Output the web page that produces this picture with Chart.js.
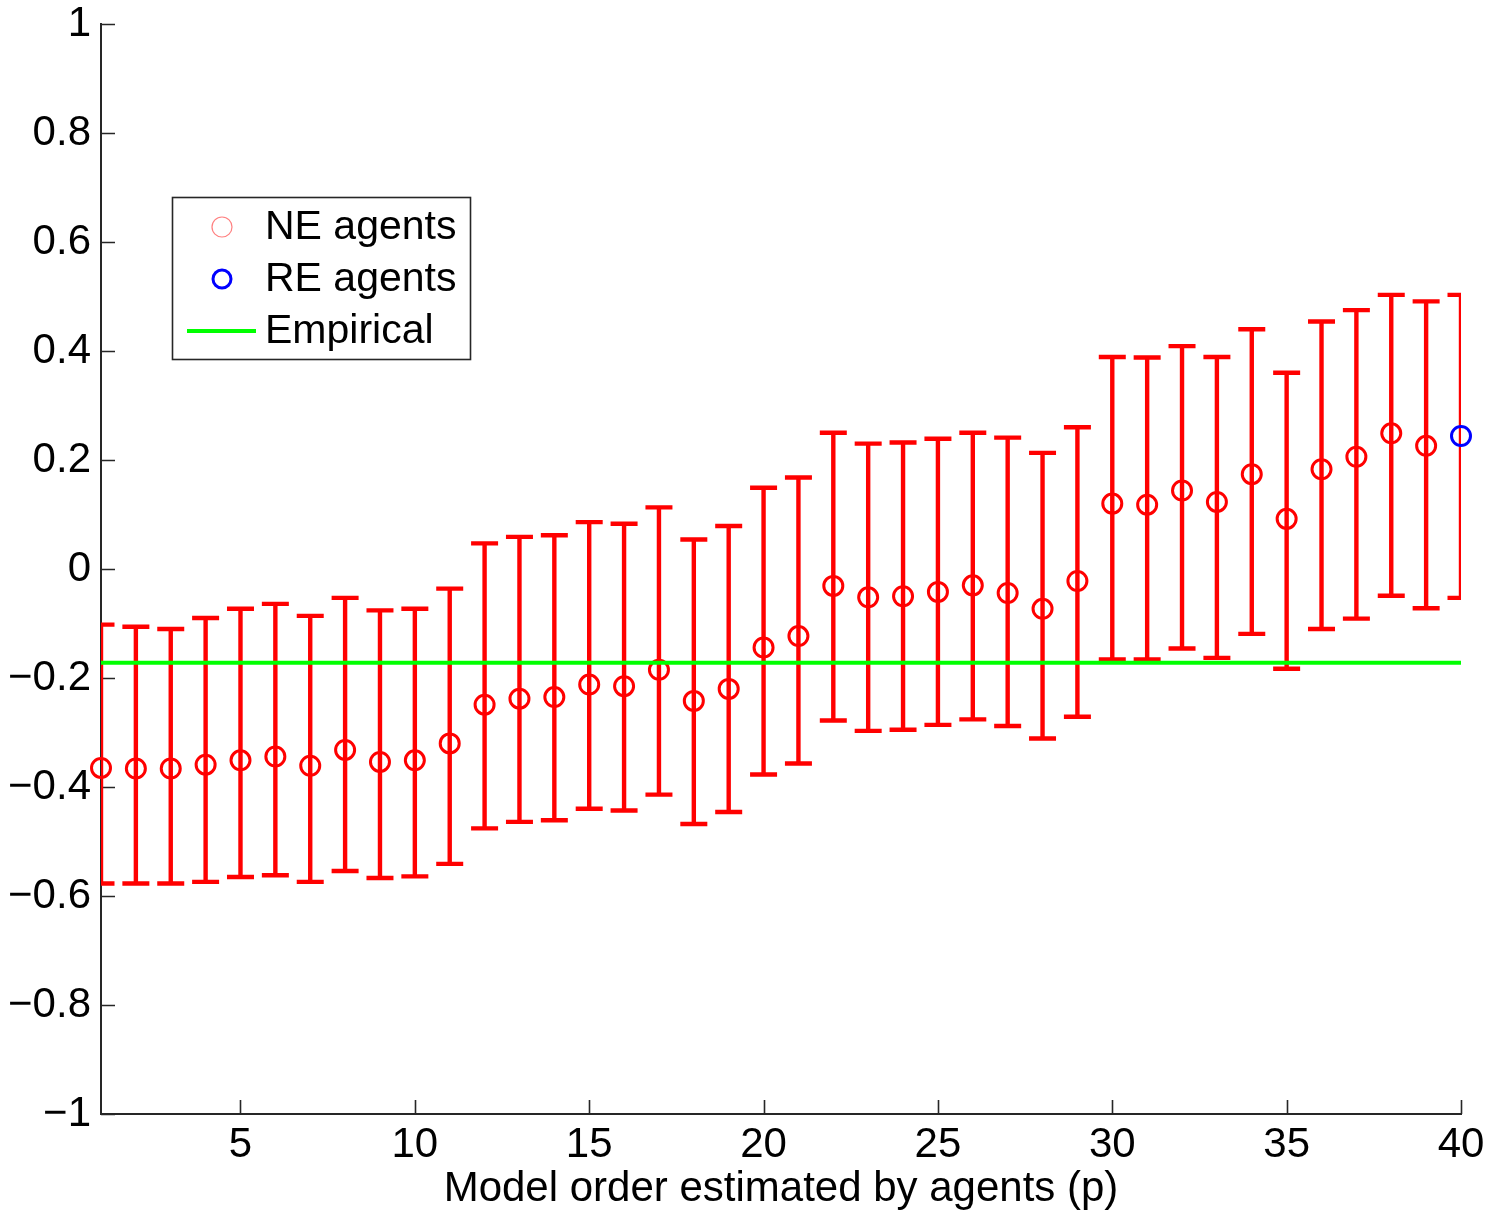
<!DOCTYPE html>
<html>
<head>
<meta charset="utf-8">
<script src="https://cdn.jsdelivr.net/npm/chart.js@4"></script>
<style>
  html, body { margin: 0; padding: 0; background: #ffffff; }
  #wrap { width: 1490px; height: 1210px; }
</style>
</head>
<body>
<div id="wrap"><canvas id="chart" width="1490" height="1210"></canvas></div>
<script>
// Model orders p on the x axis
const modelOrders = [1, 2, 3, 4, 5, 6, 7, 8, 9, 10, 11, 12, 13, 14, 15, 16, 17, 18, 19, 20,
                     21, 22, 23, 24, 25, 26, 27, 28, 29, 30, 31, 32, 33, 34, 35, 36, 37, 38, 39, 40];

// NE agents: mean statistic for p = 1..39
const neOrders = [1, 2, 3, 4, 5, 6, 7, 8, 9, 10, 11, 12, 13, 14, 15, 16, 17, 18, 19, 20,
                  21, 22, 23, 24, 25, 26, 27, 28, 29, 30, 31, 32, 33, 34, 35, 36, 37, 38, 39];
const neMean = [-0.365, -0.366, -0.366, -0.359, -0.351, -0.344, -0.361, -0.332, -0.354, -0.351, -0.320,
                -0.249, -0.238, -0.235, -0.212, -0.215, -0.185, -0.242, -0.220, -0.144, -0.123,
                -0.031, -0.052, -0.050, -0.042, -0.030, -0.044, -0.073, -0.022,
                 0.120,  0.118,  0.144,  0.123,  0.174,  0.092,  0.183,  0.206,  0.249,  0.226];

// RE agents: p = 40
const reOrders = [40];
const reMean = [0.244];

// Upper and lower ends of the error bars, p = 1..40
const errUpper = [-0.102, -0.106, -0.110, -0.090, -0.073, -0.064, -0.086, -0.053, -0.076, -0.073, -0.036,
                   0.047,  0.059,  0.062,  0.086,  0.083,  0.113,  0.054,  0.079,  0.149,  0.168,
                   0.250,  0.230,  0.232,  0.239,  0.250,  0.241,  0.213,  0.260,
                   0.389,  0.388,  0.409,  0.389,  0.440,  0.360,  0.454,  0.475,  0.503,  0.491, 0.503];
const errLower = [-0.577, -0.577, -0.577, -0.574, -0.565, -0.562, -0.574, -0.554, -0.567, -0.564, -0.541,
                  -0.476, -0.464, -0.461, -0.440, -0.443, -0.414, -0.468, -0.446, -0.377, -0.357,
                  -0.278, -0.297, -0.295, -0.286, -0.276, -0.288, -0.311, -0.271,
                  -0.166, -0.166, -0.146, -0.163, -0.119, -0.183, -0.110, -0.091, -0.049, -0.072, -0.053];

// Empirical reference level
const empiricalOrders = [1, 40];
const empiricalValues = [-0.172, -0.172];

// Axis ticks
const xTickValues = [5, 10, 15, 20, 25, 30, 35, 40];
const xTickLabels = ['5', '10', '15', '20', '25', '30', '35', '40'];
const yTickValues = [-1, -0.8, -0.6, -0.4, -0.2, 0, 0.2, 0.4, 0.6, 0.8, 1];
const yTickLabels = ['\u22121', '\u22120.8', '\u22120.6', '\u22120.4', '\u22120.2', '0', '0.2', '0.4', '0.6', '0.8', '1'];

const seriesNames = ['NE agents', 'RE agents', 'Empirical'];
const xAxisTitle = 'Model order estimated by agents (p)';

const FONT = "'Liberation Sans', Arial, Helvetica, sans-serif";
const AXIS_COLOR = '#262626';

// Inward-pointing tick marks on the left and bottom axes
const innerTicks = {
  id: 'innerTicks',
  beforeDatasetsDraw(chart) {
    const { ctx, chartArea: a, scales: { x, y } } = chart;
    const len = 14;
    ctx.save();
    ctx.strokeStyle = AXIS_COLOR;
    ctx.lineWidth = 1.6;
    ctx.beginPath();
    xTickValues.forEach(v => {
      const px = Math.round(x.getPixelForValue(v)) + 0.5;
      ctx.moveTo(px, a.bottom);
      ctx.lineTo(px, a.bottom - len);
    });
    yTickValues.forEach(v => {
      const py = Math.round(y.getPixelForValue(v)) + 0.5;
      ctx.moveTo(a.left, py);
      ctx.lineTo(a.left + len, py);
    });
    ctx.stroke();
    ctx.restore();
  }
};

// Vertical error bars with caps, clipped to the plot area
const errorBars = {
  id: 'errorBars',
  beforeDatasetsDraw(chart) {
    const { ctx, chartArea: a, scales: { x, y } } = chart;
    const capHalf = 13.5;
    ctx.save();
    ctx.beginPath();
    ctx.rect(a.left, a.top, a.right - a.left, a.bottom - a.top);
    ctx.clip();
    ctx.strokeStyle = '#ff0000';
    ctx.lineWidth = 4.4;
    ctx.lineCap = 'butt';
    modelOrders.forEach((p, i) => {
      const px = x.getPixelForValue(p);
      const pt = y.getPixelForValue(errUpper[i]);
      const pb = y.getPixelForValue(errLower[i]);
      ctx.beginPath();
      ctx.moveTo(px, pt);
      ctx.lineTo(px, pb);
      ctx.moveTo(px - capHalf, pt);
      ctx.lineTo(px + capHalf, pt);
      ctx.moveTo(px - capHalf, pb);
      ctx.lineTo(px + capHalf, pb);
      ctx.stroke();
    });
    ctx.restore();
  }
};

// Boxed legend inside the plot, upper left
const boxLegend = {
  id: 'boxLegend',
  afterDraw(chart) {
    const { ctx } = chart;
    const box = { left: 172, top: 197, width: 298, height: 162 };
    const rows = [227, 279, 331];
    const markerX = 222;
    const textX = 265;
    ctx.save();
    ctx.fillStyle = '#ffffff';
    ctx.fillRect(box.left, box.top, box.width, box.height);
    ctx.strokeStyle = AXIS_COLOR;
    ctx.lineWidth = 1.6;
    ctx.strokeRect(box.left + 0.5, box.top + 0.5, box.width, box.height);

    // NE agents marker
    ctx.beginPath();
    ctx.strokeStyle = '#ff8080';
    ctx.lineWidth = 1.2;
    ctx.arc(markerX, rows[0], 10, 0, Math.PI * 2);
    ctx.stroke();
    // RE agents marker
    ctx.beginPath();
    ctx.strokeStyle = '#0000ff';
    ctx.lineWidth = 3;
    ctx.arc(markerX, rows[1], 9, 0, Math.PI * 2);
    ctx.stroke();
    // Empirical line sample
    ctx.beginPath();
    ctx.strokeStyle = '#00ff00';
    ctx.lineWidth = 4;
    ctx.moveTo(187, rows[2]);
    ctx.lineTo(256, rows[2]);
    ctx.stroke();

    ctx.fillStyle = '#000000';
    ctx.font = '41px ' + FONT;
    ctx.textAlign = 'left';
    ctx.textBaseline = 'middle';
    seriesNames.forEach((name, i) => ctx.fillText(name, textX, rows[i] + 1));
    ctx.restore();
  }
};

const ctx = document.getElementById('chart').getContext('2d');
new Chart(ctx, {
  type: 'scatter',
  data: {
    datasets: [
      {
        label: seriesNames[0],
        data: neOrders.map((p, i) => ({ x: p, y: neMean[i] })),
        borderColor: '#ff0000',
        backgroundColor: 'rgba(0,0,0,0)',
        pointRadius: 9.5,
        pointBorderWidth: 3,
        pointHoverRadius: 9.5,
        showLine: false,
        clip: false,
        order: 3
      },
      {
        label: seriesNames[1],
        data: reOrders.map((p, i) => ({ x: p, y: reMean[i] })),
        borderColor: '#0000ff',
        backgroundColor: 'rgba(0,0,0,0)',
        pointRadius: 9.5,
        pointBorderWidth: 3,
        pointHoverRadius: 9.5,
        showLine: false,
        clip: false,
        order: 1
      },
      {
        label: seriesNames[2],
        data: empiricalOrders.map((p, i) => ({ x: p, y: empiricalValues[i] })),
        borderColor: '#00ff00',
        backgroundColor: '#00ff00',
        borderWidth: 4,
        pointRadius: 0,
        pointHoverRadius: 0,
        showLine: true,
        order: 2
      }
    ]
  },
  options: {
    responsive: false,
    devicePixelRatio: 1,
    animation: false,
    events: [],
    layout: { padding: { top: 24, right: 29, left: 0, bottom: 0 } },
    plugins: {
      legend: { display: false },
      tooltip: { enabled: false }
    },
    scales: {
      x: {
        type: 'linear',
        min: 1,
        max: 40,
        afterBuildTicks: s => { s.ticks = xTickValues.map(v => ({ value: v })); },
        afterFit: s => { s.height = 96; s.paddingLeft = 0; s.paddingRight = 0; },
        grid: { display: false, drawTicks: false },
        border: { display: true, color: AXIS_COLOR, width: 2 },
        ticks: {
          autoSkip: false,
          maxRotation: 0,
          padding: 10,
          color: '#000000',
          font: { family: FONT, size: 42, lineHeight: 1 },
          callback: (v, i) => xTickLabels[i]
        },
        title: {
          display: true,
          text: xAxisTitle,
          color: '#000000',
          padding: { top: 0, bottom: 0 },
          font: { family: FONT, size: 42, lineHeight: 1 }
        }
      },
      y: {
        type: 'linear',
        min: -1,
        max: 1,
        afterBuildTicks: s => { s.ticks = yTickValues.map(v => ({ value: v })); },
        afterFit: s => { s.width = 101; s.paddingTop = 0; s.paddingBottom = 0; },
        grid: { display: false, drawTicks: false },
        border: { display: true, color: AXIS_COLOR, width: 2 },
        ticks: {
          autoSkip: false,
          padding: 10,
          color: '#000000',
          font: { family: FONT, size: 42, lineHeight: 1 },
          callback: (v, i) => yTickLabels[i]
        }
      }
    }
  },
  plugins: [innerTicks, errorBars, boxLegend]
});
</script>
</body>
</html>
